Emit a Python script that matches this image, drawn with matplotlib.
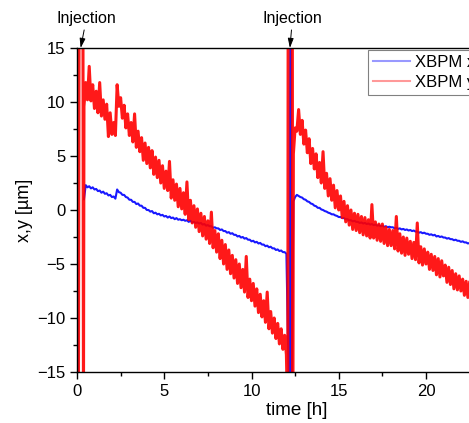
import numpy as np
import matplotlib.pyplot as plt
from matplotlib.ticker import MultipleLocator

plt.rcParams['font.family'] = ['Liberation Sans', 'DejaVu Sans']

# ---------------------------------------------------------------------------
# Data (time in h, position in µm)
# ---------------------------------------------------------------------------

# injection spikes (values beyond the axis range are clipped, nan breaks the line)
inj1_t_y = [0.00, 0.04, 0.08, 0.12, 0.16, 0.34, 0.37]
inj1_v_y = [-20, 20, -20, 20, 20, 20, -20]
inj1_t_x = [0.00, 0.05, 0.09, 0.10]
inj1_v_x = [-3.0, -20, -20, np.nan]

inj2_t_y = [12.08, 12.10, 12.34, 12.36]
inj2_v_y = [-20, 20, 20, -20]
inj2_t_x = [12.18, 12.22, 12.27, 12.29]
inj2_v_x = [-20, 20, 20, -20]

# first fill, 0.4 h .. 12.0 h every 0.1 h
fill1_t = np.round(np.arange(0.4, 12.05, 0.1), 2)
fill1_y = [
    9.6, 11.8, 10.2, 13.3, 10.1, 11.6, 9.4, 11.0, 9.0, 11.8,
    8.7, 10.2, 8.4, 9.8, 6.8, 9.0, 7.0, 8.1, 6.9, 11.6,
    9.6, 10.4, 8.5, 9.7, 7.6, 8.9, 6.9, 8.1, 6.3, 8.9,
    5.8, 7.3, 5.4, 6.7, 4.6, 6.2, 4.3, 5.8, 3.9, 5.5,
    3.3, 4.9, 3.0, 4.6, 2.5, 4.1, 2.0, 3.6, 1.8, 4.5,
    1.1, 2.8, 0.9, 2.4, 0.3, 2.0, 0.1, 1.6, -0.4, 2.6,
    -0.9, 0.9, -1.2, 0.4, -1.6, 0.1, -2.0, -0.3, -2.4, -0.6,
    -2.7, -1.0, -3.1, -0.2, -3.5, -1.9, -3.9, -2.2, -4.5, -2.8,
    -5.0, -3.2, -5.5, -3.7, -5.9, -4.2, -6.3, -4.6, -6.8, -5.0,
    -7.2, -5.5, -7.6, -4.3, -8.1, -6.4, -8.4, -6.8, -8.9, -7.3,
    -9.5, -7.8, -9.9, -8.4, -10.4, -7.6, -11.0, -9.4, -11.4, -10.0,
    -11.9, -10.5, -12.4, -11.0, -12.9, -11.6, -13.4,
]
fill1_x = [
    1.0, 2.3, 2.1, 2.2, 2.0, 2.1, 1.9, 1.95, 1.75, 1.8,
    1.6, 1.7, 1.5, 1.55, 1.35, 1.4, 1.2, 1.25, 1.05, 1.9,
    1.65, 1.6, 1.4, 1.4, 1.2, 1.15, 0.95, 0.95, 0.75, 0.75,
    0.55, 0.6, 0.4, 0.4, 0.2, 0.2, 0.0, 0.0, -0.15, -0.1,
    -0.3, -0.25, -0.4, -0.35, -0.5, -0.45, -0.6, -0.55, -0.7, -0.6,
    -0.75, -0.7, -0.85, -0.75, -0.9, -0.85, -0.95, -0.9, -1.0, -0.95,
    -1.1, -1.0, -1.15, -1.1, -1.2, -1.15, -1.25, -1.2, -1.35, -1.3,
    -1.45, -1.4, -1.5, -1.5, -1.65, -1.6, -1.7, -1.7, -1.85, -1.8,
    -1.95, -1.95, -2.1, -2.05, -2.2, -2.15, -2.3, -2.3, -2.45, -2.4,
    -2.55, -2.5, -2.65, -2.6, -2.75, -2.75, -2.9, -2.85, -3.0, -2.95,
    -3.1, -3.05, -3.2, -3.2, -3.35, -3.3, -3.45, -3.4, -3.55, -3.55,
    -3.7, -3.65, -3.8, -3.75, -3.9, -3.9, -4.05,
]

# second fill, 12.4 h .. 22.5 h every 0.1 h
fill2_t = np.round(np.arange(12.4, 22.55, 0.1), 2)
fill2_y = [
    5.2, 7.6, 7.3, 9.3, 7.0, 8.3, 6.1, 7.4, 5.3, 6.6,
    4.3, 5.7, 3.8, 5.2, 3.0, 4.4, 2.5, 5.4, 2.0, 3.4,
    1.3, 2.9, 0.9, 2.3, 0.2, 1.8, 0.0, 1.3, -0.7, 0.8,
    -1.1, 0.4, -1.4, 0.0, -1.8, -0.3, -1.9, -0.4, -2.1, -0.6,
    -2.3, -0.7, -2.4, -0.9, -2.6, 0.5, -2.6, -1.1, -2.8, -1.3,
    -2.9, -1.3, -3.1, -1.6, -3.3, -1.8, -3.3, -1.9, -3.6, -0.6,
    -3.8, -2.2, -4.0, -2.5, -4.2, -2.6, -4.1, -2.9, -4.5, -3.0,
    -4.6, -1.2, -4.9, -3.4, -5.1, -3.6, -5.0, -3.9, -5.5, -4.1,
    -5.6, -4.3, -6.0, -4.5, -6.2, -4.7, -6.1, -5.1, -6.7, -5.3,
    -6.9, -5.6, -7.3, -5.9, -7.4, -6.1, -7.5, -6.4, -7.9, -6.6,
    -8.1, -6.7,
]
fill2_x = [
    0.8, 1.2, 1.4, 1.3, 1.2, 1.15, 1.0, 0.95, 0.8, 0.75,
    0.6, 0.55, 0.4, 0.35, 0.2, 0.2, 0.05, 0.0, -0.1, -0.15,
    -0.25, -0.3, -0.4, -0.4, -0.5, -0.55, -0.65, -0.65, -0.75, -0.75,
    -0.85, -0.85, -0.95, -0.95, -1.05, -1.0, -1.1, -1.1, -1.2, -1.15,
    -1.25, -1.2, -1.3, -1.25, -1.35, -1.3, -1.4, -1.35, -1.45, -1.4,
    -1.5, -1.45, -1.55, -1.5, -1.6, -1.55, -1.6, -1.6, -1.7, -1.65,
    -1.75, -1.7, -1.8, -1.75, -1.85, -1.8, -1.9, -1.85, -1.95, -1.9,
    -2.0, -2.0, -2.1, -2.05, -2.15, -2.1, -2.2, -2.2, -2.3, -2.25,
    -2.35, -2.3, -2.45, -2.4, -2.5, -2.45, -2.55, -2.55, -2.65, -2.6,
    -2.7, -2.7, -2.8, -2.75, -2.85, -2.85, -2.95, -2.9, -3.0, -3.0,
    -3.1, -3.05,
]

inj_arrow_t = [0.21, 12.2]
inj_text_t = [0.54, 12.35]

# ---------------------------------------------------------------------------
# Assemble series
# ---------------------------------------------------------------------------

t_x = np.concatenate([inj1_t_x, fill1_t, inj2_t_x, fill2_t])
v_x = np.concatenate([inj1_v_x, fill1_x, inj2_v_x, fill2_x])
t_y = np.concatenate([inj1_t_y, fill1_t, inj2_t_y, fill2_t])
v_y = np.concatenate([inj1_v_y, fill1_y, inj2_v_y, fill2_y])

# ---------------------------------------------------------------------------
# Plot
# ---------------------------------------------------------------------------

W, H = 469, 423
fig = plt.figure(figsize=(W / 100, H / 100), dpi=100)
ax_l, ax_b, ax_t = 77 / W, 1 - 372 / H, 1 - 48 / H
ax_r = 1.1                       # axes run past the right edge (cropped original)
ax = fig.add_axes([ax_l, ax_b, ax_r - ax_l, ax_t - ax_b])

px_per_h = 17.45
xmax = (ax_r - ax_l) * W / px_per_h

ax.plot(t_x, v_x, color='#0000ff', lw=1.5, alpha=0.9, label='XBPM x')
ax.plot(t_y, v_y, color='#ff0000', lw=2.2, alpha=0.9, label='XBPM y')

ax.set_xlim(0, xmax)
ax.set_ylim(-15, 15)
ax.xaxis.set_major_locator(MultipleLocator(5))
ax.xaxis.set_minor_locator(MultipleLocator(2.5))
ax.yaxis.set_major_locator(MultipleLocator(5))
ax.yaxis.set_minor_locator(MultipleLocator(2.5))
ax.tick_params(which='both', direction='out', labelsize=12, top=False, right=False)
ax.tick_params(which='major', length=5, width=1)
ax.tick_params(which='minor', length=3, width=1)
for sp in ax.spines.values():
    sp.set_linewidth(1.0)
# hide tick labels that fall outside the visible picture
for lbl, loc in zip(ax.get_xticklabels(), ax.get_xticks()):
    if loc > (W - 77) / px_per_h:
        lbl.set_visible(False)

ax.set_xlabel('time [h]', fontsize=13.5, labelpad=2)
ax.set_ylabel('x,y [µm]', fontsize=13, labelpad=3)

for ta, tt in zip(inj_arrow_t, inj_text_t):
    ax.annotate('Injection', xy=(ta, 15), xytext=(tt, 17.75), textcoords='data',
                ha='center', va='center', fontsize=11.5, annotation_clip=False,
                arrowprops=dict(arrowstyle='-|>,head_length=0.5,head_width=0.15',
                                color='black', lw=0.7, shrinkA=1, shrinkB=0))

leg_x = (368 - 77) / ((ax_r - ax_l) * W)
leg = ax.legend(loc='upper left', bbox_to_anchor=(leg_x, 0.994), fontsize=12,
                frameon=True, fancybox=False, edgecolor='#808080', framealpha=1,
                borderpad=0.3, borderaxespad=0, labelspacing=0.3,
                handlelength=2.2, handletextpad=0.3)
leg.get_frame().set_linewidth(0.8)
for line in leg.get_lines():
    line.set_alpha(0.4)
    line.set_linewidth(1.5)

fig.savefig('out.png', dpi=100)
